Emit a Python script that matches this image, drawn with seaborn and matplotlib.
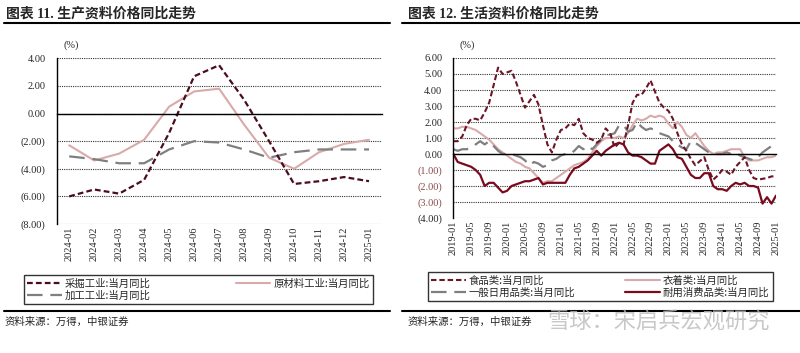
import pandas as pd
import matplotlib.pyplot as plt
import seaborn as sns
from matplotlib.lines import Line2D

sns.set_style('white')
plt.rcParams['font.family'] = ['Liberation Serif', 'Noto Sans CJK SC']
plt.rcParams['axes.unicode_minus'] = False

# ---- 图表11: 生产资料 (2024-01 .. 2025-01)
left_months = ['2024-01', '2024-02', '2024-03', '2024-04', '2024-05', '2024-06', '2024-07',
               '2024-08', '2024-09', '2024-10', '2024-11', '2024-12', '2025-01']
mining = [-6.0, -5.5, -5.8, -4.8, -1.4, 2.7, 3.5, 1.0, -2.0, -5.1, -4.9, -4.6, -4.9]
raw_material = [-2.3, -3.4, -2.9, -1.9, 0.5, 1.6, 1.8, -0.8, -3.2, -4.0, -2.8, -2.2, -1.9]
processing = [-3.1, -3.3, -3.6, -3.6, -2.6, -2.0, -2.1, -2.6, -3.2, -2.8, -2.6, -2.6, -2.6]

# ---- 图表12: 生活资料 (2019-01 .. 2025-01, monthly)
right_months = [f'{2019 + i // 12}-{i % 12 + 1:02d}' for i in range(73)]
food = [0.8, 0.8, 1.1, 1.8, 2.2, 2.2, 2.1, 2.6, 3.2, 4.3, 5.4, 5.0,
        5.1, 5.2, 4.5, 3.7, 2.9, 3.3, 3.7, 3.1, 1.8, 0.6, 0.1, 0.9,
        1.5, 1.6, 1.9, 1.8, 2.2, 1.3, 1.0, 0.9, 0.7, 0.9, 1.6, 1.3,
        0.4, 0.7, 0.6, 1.8, 3.2, 3.7, 3.7, 4.1, 4.6, 3.9, 3.2, 2.9,
        2.7, 2.2, 1.3, 0.6, 0.2, -0.3, -0.7, -0.45, -0.2, -1.0, -1.6, -1.35,
        -1.0, -1.1, -1.3, -0.8, -0.5, -0.2, -1.0, -1.5, -1.6, -1.55, -1.5, -1.4, -1.4]
clothing = [1.6, 1.6, 1.7, 1.7, 1.6, 1.5, 1.3, 1.1, 0.9, 0.6, 0.3, 0.1,
            -0.1, -0.3, -0.5, -0.6, -0.8, -0.9, -1.2, -1.5, -1.8, -1.7, -1.7, -1.5,
            -1.3, -1.1, -0.9, -0.7, -0.6, -0.5, -0.3, 0.1, 0.5, 0.8, 1.0, 1.0,
            1.0, 1.1, 1.0, 1.3, 1.8, 2.2, 2.1, 2.2, 2.4, 2.3, 2.4, 2.3,
            1.9, 1.6, 2.0, 1.7, 1.2, 1.0, 1.3, 0.9, 0.5, 0.2, 0.0, 0.1,
            0.1, 0.2, 0.3, 0.3, 0.3, -0.2, -0.4, -0.4, -0.4, -0.3, -0.2, -0.2, -0.1]
daily_goods = [0.3, 0.2, 0.3, 0.3, 0.4, 0.6, 0.8, 0.6, 0.8, 0.5, 0.2, 0.0,
               0.0, 0.0, -0.1, -0.2, -0.4, -0.7, -0.5, -0.6, -0.8, -0.7, -0.4, -0.3,
               -0.1, 0.0, 0.0, 0.2, 0.5, 0.3, 0.5, 0.3, 0.6, 0.9, 1.2, 1.2,
               1.3, 1.8, 1.8, 1.4, 1.5, 2.0, 1.7, 1.5, 1.6, 1.5, 1.3, 1.2,
               1.1, 0.8, 0.6, 0.4, 0.3, 0.8, 0.7, 0.5, 0.3, 0.1, 0.0, 0.0,
               0.0, 0.1, 0.0, 0.1, -0.1, -0.2, -0.3, -0.4, -0.2, 0.1, 0.3, 0.5, 0.5]
durable = [0.0, -0.5, -0.6, -0.7, -0.8, -1.0, -1.3, -2.0, -1.8, -1.8, -2.1, -2.4,
           -2.3, -2.0, -1.9, -1.8, -1.7, -1.7, -1.6, -1.5, -1.9, -1.8, -1.8, -1.8,
           -1.8, -1.8, -1.3, -0.9, -0.8, -0.6, -0.4, -0.1, 0.2, -0.1, 0.2, 0.4,
           0.6, 0.7, 0.6, 0.1, -0.1, -0.1, -0.2, -0.4, -0.6, -0.6, 0.2, 0.4,
           0.6, 0.3, -0.2, -0.3, -0.8, -1.3, -1.5, -1.5, -1.2, -1.2, -2.0, -2.2,
           -2.2, -2.3, -2.0, -1.8, -1.9, -1.8, -2.0, -2.0, -2.1, -3.1, -2.7, -3.1, -2.6]

left_df = pd.DataFrame({'idx': range(len(left_months)), '采掘工业:当月同比': mining,
                        '原材料工业:当月同比': raw_material, '加工工业:当月同比': processing})
right_df = pd.DataFrame({'idx': range(len(right_months)), '食品类:当月同比': food,
                         '衣着类:当月同比': clothing, '一般日用品类:当月同比': daily_goods,
                         '耐用消费品类:当月同比': durable})

fig = plt.figure(figsize=(8, 3.53), dpi=100)
ax1 = fig.add_axes([0.0709, 0.3654, 0.406, 0.4694])
ax2 = fig.add_axes([0.5666, 0.3824, 0.4034, 0.4533])

grid_kw = dict(color='#333333', linestyle=(0, (1, 1)), linewidth=0.8)


def draw_series(ax, df, col, color, lw, dashes):
    sns.lineplot(data=df, x='idx', y=col, ax=ax, color=color, linewidth=lw, label=col)
    if dashes:
        ax.lines[-1].set_dashes(dashes)


def style_axis(ax, yticks, ylabels, xlim, boundaries, label_pos, labels):
    ax.set_ylim(yticks[-1], yticks[0])
    ax.set_xlim(*xlim)
    ax.set_yticks(yticks, ylabels)
    ax.yaxis.grid(True, **grid_kw)
    ax.set_axisbelow(True)
    for s in ['top', 'right']:
        ax.spines[s].set_visible(False)
    ax.spines['left'].set_color('black')
    ax.spines['left'].set_linewidth(1)
    ax.spines['bottom'].set_position(('data', 0))
    ax.spines['bottom'].set_color('black')
    ax.spines['bottom'].set_linewidth(1)
    ax.set_xticks(boundaries)
    ax.tick_params(axis='x', length=3, width=0.8, direction='out', labelbottom=False, color='black')
    ax.tick_params(axis='y', length=3, width=0.8, color='black', labelsize=7.5, pad=5)
    ax.set_xlabel('')
    ax.set_ylabel('')
    sec = ax.secondary_xaxis('bottom')
    sec.set_xticks(label_pos, labels, rotation=90)
    sec.tick_params(length=0, labelsize=7.5, pad=2)
    sec.spines['bottom'].set_visible(False)
    ax.text(0.02, 1.08, '(%)', transform=ax.transAxes, fontsize=7.5, va='center')


# left chart
draw_series(ax1, left_df, '原材料工业:当月同比', '#D9AAAA', 1.5, None)
draw_series(ax1, left_df, '加工工业:当月同比', '#7F7F7F', 1.6, (7, 3.5))
draw_series(ax1, left_df, '采掘工业:当月同比', '#4A0D1E', 1.6, (2.6, 1.4))
style_axis(ax1, [4, 2, 0, -2, -4, -6, -8],
           ['4.00', '2.00', '0.00', '(2.00)', '(4.00)', '(6.00)', '(8.00)'],
           (-0.5, len(left_months) - 0.5),
           [i - 0.5 for i in range(len(left_months) + 1)],
           list(range(len(left_months))), left_months)

h1 = {l.get_label(): l for l in ax1.lines}
ax1.legend([h1['采掘工业:当月同比'], h1['加工工业:当月同比'], h1['原材料工业:当月同比']],
           ['采掘工业:当月同比', '加工工业:当月同比', '原材料工业:当月同比'],
           loc='upper left', bbox_to_anchor=(-0.116, -0.453, 1.105, 0.175), mode='expand',
           ncol=2, frameon=True, fancybox=False, edgecolor='black',
           handlelength=3.3, borderpad=0.3, labelspacing=0.2, handletextpad=0.3,
           prop={'family': ['Noto Sans CJK SC'], 'size': 7.5})
ax1.get_legend().get_frame().set_linewidth(1)

# right chart
draw_series(ax2, right_df, '衣着类:当月同比', '#D9AAAA', 1.5, None)
draw_series(ax2, right_df, '一般日用品类:当月同比', '#7F7F7F', 1.6, (7, 3.5))
draw_series(ax2, right_df, '食品类:当月同比', '#6B1528', 1.5, (2.6, 1.4))
draw_series(ax2, right_df, '耐用消费品类:当月同比', '#7A0A1E', 1.6, None)
right_ticks = list(range(0, len(right_months), 4))
style_axis(ax2, [6, 5, 4, 3, 2, 1, 0, -1, -2, -3, -4],
           ['6.00', '5.00', '4.00', '3.00', '2.00', '1.00', '0.00',
            '(1.00)', '(2.00)', '(3.00)', '(4.00)'],
           (0, len(right_months) - 1), right_ticks,
           right_ticks, [right_months[i] for i in right_ticks])
for t in ax2.get_yticklabels():
    if t.get_text() in ('(1.00)', '(2.00)', '(3.00)'):
        t.set_color('#8B4A4A')

h2 = {l.get_label(): l for l in ax2.lines}
order2 = ['食品类:当月同比', '一般日用品类:当月同比', '衣着类:当月同比', '耐用消费品类:当月同比']
ax2.legend([h2[k] for k in order2], order2,
           loc='upper left', bbox_to_anchor=(-0.094, -0.506, 1.1, 0.2), mode='expand',
           ncol=2, frameon=True, fancybox=False, edgecolor='black',
           handlelength=3.3, borderpad=0.3, labelspacing=0.2, handletextpad=0.3,
           prop={'family': ['Noto Sans CJK SC'], 'size': 7.5})
ax2.get_legend().get_frame().set_linewidth(1)

# titles, rules, sources
fig.text(0.008, 0.962, '图表 11. 生产资料价格同比走势', fontsize=10, fontweight='bold', va='center')
fig.text(0.51, 0.962, '图表 12. 生活资料价格同比走势', fontsize=10, fontweight='bold', va='center')
for x0, x1 in [(0.005, 0.4875), (0.503, 1.0)]:
    fig.add_artist(Line2D([x0, x1], [1 - 23 / 353] * 2, color='black', lw=1.5, transform=fig.transFigure))
    fig.add_artist(Line2D([x0, x1], [1 - 311 / 353] * 2, color='black', lw=1.5, transform=fig.transFigure))
fig.text(0.006, 1 - 322 / 353, '资料来源：万得，中银证券', fontsize=7.5, va='center', style='italic')
fig.text(0.51, 1 - 322 / 353, '资料来源：万得，中银证券', fontsize=7.5, va='center', style='italic')
fig.text(0.684, 1 - 323 / 353, '雪球：宋启兵宏观研究', fontsize=16, va='center',
         color='#BBBBBB', alpha=0.8)

fig.savefig('out.png', dpi=100)
